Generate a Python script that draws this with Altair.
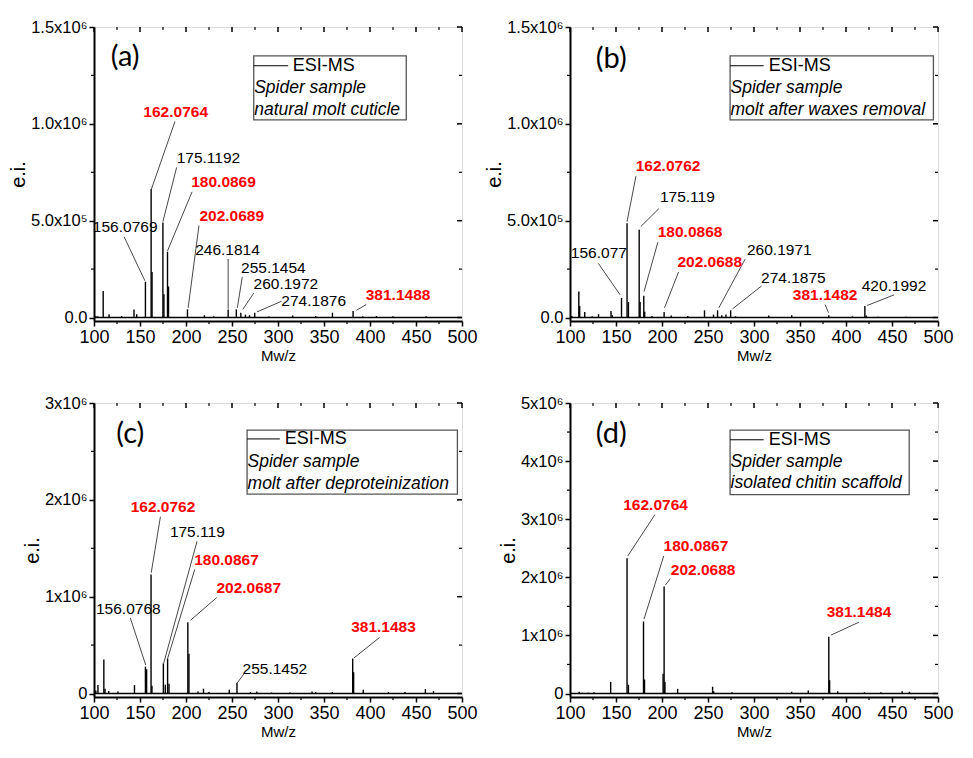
import altair as alt
import pandas as pd

FONT = "Liberation Sans"
W, H = 368, 294

# ---------------- panel (a) ----------------
a_mz = [102, 104, 110, 116.4, 130, 143.5, 146.4, 155.9, 162.1, 163.1, 174.9, 176.0, 179.9, 181.0,
        201.6, 220, 230, 245.8, 254.7, 259.6, 264.6, 269, 274.7, 290, 316, 341, 359.2, 381.6,
        392, 407, 425, 461]
a_int = [8e3, 6e3, 1.37e5, 1.7e4, 8e3, 4.2e4, 1.7e4, 1.85e5, 6.63e5, 2.35e5, 4.9e5, 1.2e5, 3.4e5, 1.6e5,
         4.2e4, 1.2e4, 6e3, 4.2e4, 4.2e4, 2.5e4, 1.5e4, 1.2e4, 2.5e4, 5e3, 1e4, 8e3, 2.5e4, 3.4e4,
         6e3, 8e3, 6e3, 6e3]
a_lab = ["162.0764", "175.1192", "180.0869", "202.0689", "156.0769", "246.1814", "255.1454",
         "260.1972", "274.1876", "381.1488"]
a_red = [True, False, True, True, False, False, False, False, False, True]
a_lx = [188.8, 224.4, 240.8, 249.7, 133.9, 245.1, 295.0, 308.6, 338.8, 430.5]
a_ly = [1.062e6, 0.822e6, 0.700e6, 0.525e6, 0.467e6, 0.347e6, 0.255e6, 0.173e6, 0.084e6, 0.114e6]
a_x1 = [188.0, 189.8, 206.6, 214.1, 132.8, 245.8, 261.2, 273.6, 303.9, 395.9]
a_y1 = [1.012e6, 0.775e6, 0.649e6, 0.475e6, 0.416e6, 0.302e6, 0.210e6, 0.126e6, 0.084e6, 0.067e6]
a_x2 = [162.4, 174.9, 179.9, 202.3, 155.3, 245.8, 255.8, 261.8, 277.2, 385.2]
a_y2 = [0.663e6, 0.495e6, 0.344e6, 0.050e6, 0.190e6, 0.045e6, 0.050e6, 0.042e6, 0.029e6, 0.037e6]
a_legend = ["Spider sample", "natural molt cuticle"]

# ---------------- panel (b) ----------------
b_mz = [102, 109.6, 110.5, 116, 124, 131, 144.6, 146, 156, 162, 163.5, 175.2, 176.2, 180.2, 181.2,
        189, 202.3, 210, 228, 246.2, 256, 260.4, 265, 269.5, 274.6, 280, 316, 341, 381.3, 407,
        420.5, 422, 435, 465]
b_int = [8e3, 1.34e5, 6e4, 2.9e4, 6e3, 1.7e4, 3.4e4, 1.2e4, 1.01e5, 4.87e5, 8e4, 4.53e5, 8e4, 1.12e5, 3e4,
         8e3, 2.9e4, 1e4, 8e3, 3.7e4, 1.5e4, 3.7e4, 1.2e4, 1.5e4, 3.7e4, 6e3, 1e4, 1.2e4, 1.2e4, 6e3,
         5.9e4, 1e4, 4e3, 4e3]
b_lab = ["162.0762", "175.119", "180.0868", "156.077", "202.0688", "260.1971", "274.1875",
         "381.1482", "420.1992"]
b_red = [True, False, True, False, True, False, False, True, False]
b_lx = [206.6, 227.6, 230.5, 131.4, 251.9, 327.5, 342.8, 377.3, 452.2]
b_ly = [0.780e6, 0.621e6, 0.440e6, 0.331e6, 0.285e6, 0.349e6, 0.206e6, 0.117e6, 0.163e6]
b_x1 = [171.7, 196.6, 195.5, 130.7, 218.0, 290.4, 308.2, 377.3, 452.2]
b_y1 = [0.730e6, 0.562e6, 0.389e6, 0.280e6, 0.235e6, 0.302e6, 0.163e6, 0.067e6, 0.117e6]
b_x2 = [162.0, 177.0, 180.5, 154.5, 202.7, 261.8, 276.8, 381.0, 423.0]
b_y2 = [0.495e6, 0.470e6, 0.134e6, 0.117e6, 0.050e6, 0.050e6, 0.045e6, 0.025e6, 0.062e6]
b_legend = ["Spider sample", "molt after waxes removal"]

# ---------------- panel (c) ----------------
c_mz = [102, 104.3, 110.7, 112, 116, 126, 144, 155.9, 157.2, 162, 163, 175.4, 177.5, 180, 181.5,
        202, 203.2, 213, 219, 225, 247, 255.4, 270, 277, 293, 313, 337, 341, 359, 381.2, 382.2,
        392.7, 420, 438, 460.2, 469]
c_int = [3e4, 8.7e4, 3.51e5, 5e4, 2.5e4, 2e4, 8.7e4, 2.78e5, 2.5e5, 1.23e6, 8e4, 3.11e5, 9e4, 3.61e5, 1e5,
         7.35e5, 4.1e5, 2e4, 5e4, 1.5e4, 4e4, 1.1e5, 1.5e4, 2e4, 1e4, 1e4, 2e4, 1.5e4, 1.5e4, 3.61e5, 2.2e5,
         4e4, 1.5e4, 1.5e4, 4.5e4, 2.5e4]
c_lab = ["162.0762", "175.119", "180.0867", "202.0687", "156.0768", "255.1452", "381.1483"]
c_red = [True, False, True, True, False, False, True]
c_lx = [175.0, 212.3, 244.0, 268.2, 137.3, 296.6, 414.7]
c_ly = [1.926e6, 1.672e6, 1.375e6, 1.090e6, 0.870e6, 0.254e6, 0.686e6]
c_x1 = [172.2, 212.0, 209.5, 233.3, 139.5, 262.9, 410.4]
c_y1 = [1.826e6, 1.572e6, 1.281e6, 0.990e6, 0.780e6, 0.201e6, 0.579e6]
c_x2 = [162.2, 175.7, 180.0, 204.9, 156.2, 255.7, 382.7]
c_y2 = [1.247e6, 0.311e6, 0.361e6, 0.756e6, 0.294e6, 0.110e6, 0.368e6]
c_legend = ["Spider sample", "molt after deproteinization"]

# ---------------- panel (d) ----------------
d_mz = [110, 113, 120, 126, 144.2, 162, 163.5, 179.9, 181, 201.2, 202.3, 203.2, 217, 255, 256.2,
        276, 341, 359, 381.3, 382.2, 391, 420, 438, 461, 469]
d_int = [3e4, 1.5e4, 1.5e4, 2e4, 2e5, 2.33e6, 1.5e5, 1.24e6, 2.4e5, 3.4e5, 1.84e6, 2e5, 8e4, 1.17e5, 4e4,
         2e4, 3e4, 5e4, 9.78e5, 2.3e5, 4e4, 2e4, 2e4, 4e4, 3e4]
d_lab = ["162.0764", "180.0867", "202.0688", "381.1484"]
d_red = [True, True, True, True]
d_lx = [193.0, 236.9, 244.7, 414.1]
d_ly = [3.245e6, 2.533e6, 2.133e6, 1.395e6]
d_x1 = [192.3, 201.9, 209.1, 414.1]
d_y1 = [3.078e6, 2.367e6, 1.978e6, 1.228e6]
d_x2 = [162.8, 180.5, 203.7, 383.7]
d_y2 = [2.367e6, 1.283e6, 1.867e6, 1.005e6]
d_legend = ["Spider sample", "isolated chitin scaffold"]

# axis ticks
x_major = [100, 150, 200, 250, 300, 350, 400, 450, 500]
x_minor = [125, 175, 225, 275, 325, 375, 425, 475]
ab_yticks = [0, 5e5, 1e6, 1.5e6]
ab_ylabels = ["0.0", "5.0x10\u2075", "1.0x10\u2076", "1.5x10\u2076"]
ab_yminor = [2.5e5, 7.5e5, 1.25e6]
c_yticks = [0, 1e6, 2e6, 3e6]
c_ylabels = ["0", "1x10\u2076", "2x10\u2076", "3x10\u2076"]
c_yminor = [5e5, 1.5e6, 2.5e6]
d_yticks = [0, 1e6, 2e6, 3e6, 4e6, 5e6]
d_ylabels = ["0", "1x10\u2076", "2x10\u2076", "3x10\u2076", "4x10\u2076", "5x10\u2076"]
d_yminor = [5e5, 1.5e6, 2.5e6, 3.5e6, 4.5e6]

panel_tags = ["(a)", "(b)", "(c)", "(d)"]
tag_x = [133.9, 144.9, 139.5, 144.9]
tag_y = [1.345e6, 1.337e6, 2.676e6, 4.46e6]
ymax = [1.5e6, 1.5e6, 3e6, 5e6]
# legend box (data coordinates): left, right, top, bottom, row1, row2, row3, line end, text start
leg_box = [
    [273.6, 439.4, 1.351e6, 1.020e6, 1.300e6, 1.187e6, 1.074e6, 311.0, 316.0],
    [274.0, 495.0, 1.351e6, 1.020e6, 1.300e6, 1.187e6, 1.074e6, 310.5, 316.0],
    [266.4, 495.0, 2.719e6, 2.060e6, 2.629e6, 2.395e6, 2.167e6, 302.0, 307.3],
    [274.0, 468.7, 4.533e6, 3.422e6, 4.367e6, 3.978e6, 3.617e6, 310.5, 316.0],
]


def label_expr(vals, labs):
    expr = "''"
    for v, l in zip(vals, labs):
        expr = f"abs(datum.value - {v}) < 1 ? '{l}' : ({expr})"
    return expr


def panel(i, mz, inten, lab, red, lx, ly, x1, y1, x2, y2, legend, yt, yl, ymn):
    top = ymax[i]
    xs = alt.Scale(domain=[100, 500], nice=False, zero=False)
    ys = alt.Scale(domain=[-0.012 * top, top], nice=False, zero=False)

    peaks = pd.DataFrame({"mz": mz, "i": inten, "b": [0] * len(mz)})
    base = alt.Chart(peaks)
    sticks = base.mark_rule(color="black", strokeWidth=1.4).encode(
        x=alt.X("mz:Q", scale=xs, axis=alt.Axis(
            values=x_major, title="Mw/z", labelFontSize=18, titleFontSize=15,
            titleFontWeight="normal", tickSize=5, tickWidth=1.5, domainWidth=2,
            labelPadding=2, titlePadding=2, grid=False, labelFont=FONT, titleFont=FONT,
            labelFlush=False, labelOverlap=False,
            labelColor="black", titleColor="black", domainColor="black", tickColor="black")),
        y=alt.Y("i:Q", scale=ys, axis=alt.Axis(
            values=yt, labelExpr=label_expr(yt, yl), title="e.i.", labelFontSize=16.5,
            titleFontSize=20, titleFontWeight="normal", tickSize=5, tickWidth=1.5,
            domainWidth=2, labelPadding=2, titlePadding=2, grid=False, labelFont=FONT,
            labelFlush=False, labelOverlap=False,
            titleFont=FONT, labelColor="black", titleColor="black", domainColor="black",
            tickColor="black")),
        y2="b:Q",
    )

    bl = pd.DataFrame({"x": [100], "x2": [500], "y": [0]})
    baseline = alt.Chart(bl).mark_rule(color="black", strokeWidth=1.5).encode(
        x=alt.X("x:Q", scale=xs), x2="x2:Q", y=alt.Y("y:Q", scale=ys))

    ld = pd.DataFrame({"lab": lab, "red": red, "lx": lx, "ly": ly,
                       "x1": x1, "y1": y1, "x2": x2, "y2": y2})
    leaders = alt.Chart(ld).mark_rule(color="#333333", strokeWidth=0.9).encode(
        x=alt.X("x1:Q", scale=xs), y=alt.Y("y1:Q", scale=ys), x2="x2:Q", y2="y2:Q")
    red_txt = alt.Chart(ld).transform_filter("datum.red").mark_text(
        font=FONT, fontSize=15.5, fontWeight="bold", color="#ff0000", align="center",
        baseline="middle").encode(x=alt.X("lx:Q", scale=xs), y=alt.Y("ly:Q", scale=ys), text="lab:N")
    blk_txt = alt.Chart(ld).transform_filter("!datum.red").mark_text(
        font=FONT, fontSize=15.5, color="black", align="center",
        baseline="middle").encode(x=alt.X("lx:Q", scale=xs), y=alt.Y("ly:Q", scale=ys), text="lab:N")

    lb = leg_box[i]
    box = alt.Chart(pd.DataFrame({"x": [lb[0]], "x2": [lb[1]], "y": [lb[2]], "y2": [lb[3]]})).mark_rect(
        fill="white", fillOpacity=0, stroke="#555555", strokeWidth=1.3).encode(
        x=alt.X("x:Q", scale=xs), x2="x2:Q", y=alt.Y("y:Q", scale=ys), y2="y2:Q")
    sample = alt.Chart(pd.DataFrame({"x": [lb[0]], "x2": [lb[7]], "y": [lb[4]]})).mark_rule(
        color="black", strokeWidth=1).encode(
        x=alt.X("x:Q", scale=xs), x2="x2:Q", y=alt.Y("y:Q", scale=ys))
    esi = alt.Chart(pd.DataFrame({"x": [lb[8]], "y": [lb[4]], "t": ["ESI-MS"]})).mark_text(
        font=FONT, fontSize=18, align="left", baseline="middle", color="black").encode(
        x=alt.X("x:Q", scale=xs), y=alt.Y("y:Q", scale=ys), text="t:N")
    ital = alt.Chart(pd.DataFrame({"x": [lb[0] + 0.5] * 2, "y": [lb[5], lb[6]], "t": legend})).mark_text(
        font=FONT, fontSize=17.5, fontStyle="italic", align="left", baseline="middle", color="black").encode(
        x=alt.X("x:Q", scale=xs), y=alt.Y("y:Q", scale=ys), text="t:N")

    tag = alt.Chart(pd.DataFrame({"x": [tag_x[i]], "y": [tag_y[i]], "t": [panel_tags[i]]})).mark_text(
        font="Lato", fontSize=29, align="center", baseline="middle", color="black").encode(
        x=alt.X("x:Q", scale=xs), y=alt.Y("y:Q", scale=ys), text="t:N")

    # frame ticks: top / right inward, minor ticks outward on left and bottom
    tmaj = alt.Chart(pd.DataFrame({"v": x_major})).mark_rule(color="black", strokeWidth=1.5).encode(
        x=alt.X("v:Q", scale=xs), y=alt.value(0), y2=alt.value(5))
    tmin = alt.Chart(pd.DataFrame({"v": x_minor})).mark_rule(color="black", strokeWidth=1.2).encode(
        x=alt.X("v:Q", scale=xs), y=alt.value(0), y2=alt.value(3))
    bmin = alt.Chart(pd.DataFrame({"v": x_minor})).mark_rule(color="black", strokeWidth=1.2).encode(
        x=alt.X("v:Q", scale=xs), y=alt.value(H), y2=alt.value(H + 3))
    rmaj = alt.Chart(pd.DataFrame({"v": yt})).mark_rule(color="black", strokeWidth=1.5).encode(
        y=alt.Y("v:Q", scale=ys), x=alt.value(W), x2=alt.value(W - 5))
    rmin = alt.Chart(pd.DataFrame({"v": ymn})).mark_rule(color="black", strokeWidth=1.2).encode(
        y=alt.Y("v:Q", scale=ys), x=alt.value(W), x2=alt.value(W - 3))
    lmin = alt.Chart(pd.DataFrame({"v": ymn})).mark_rule(color="black", strokeWidth=1.2).encode(
        y=alt.Y("v:Q", scale=ys), x=alt.value(0), x2=alt.value(-3))

    return alt.layer(baseline, sticks, leaders, red_txt, blk_txt, box, sample, esi, ital, tag,
                     tmaj, tmin, bmin, rmaj, rmin, lmin).properties(width=W, height=H)


pa = panel(0, a_mz, a_int, a_lab, a_red, a_lx, a_ly, a_x1, a_y1, a_x2, a_y2, a_legend,
           ab_yticks, ab_ylabels, ab_yminor)
pb = panel(1, b_mz, b_int, b_lab, b_red, b_lx, b_ly, b_x1, b_y1, b_x2, b_y2, b_legend,
           ab_yticks, ab_ylabels, ab_yminor)
pc = panel(2, c_mz, c_int, c_lab, c_red, c_lx, c_ly, c_x1, c_y1, c_x2, c_y2, c_legend,
           c_yticks, c_ylabels, c_yminor)
pd_ = panel(3, d_mz, d_int, d_lab, d_red, d_lx, d_ly, d_x1, d_y1, d_x2, d_y2, d_legend,
            d_yticks, d_ylabels, d_yminor)

chart = alt.concat(
    pa, pb, pc, pd_, columns=2, spacing={"row": 30, "column": 6}
).properties(padding={"left": 0, "top": 10, "right": 0, "bottom": 0}).configure_view(
    stroke="black", strokeWidth=2
).configure(background="white")

chart.save("out.html", embed_options={"renderer": "svg", "actions": False})
